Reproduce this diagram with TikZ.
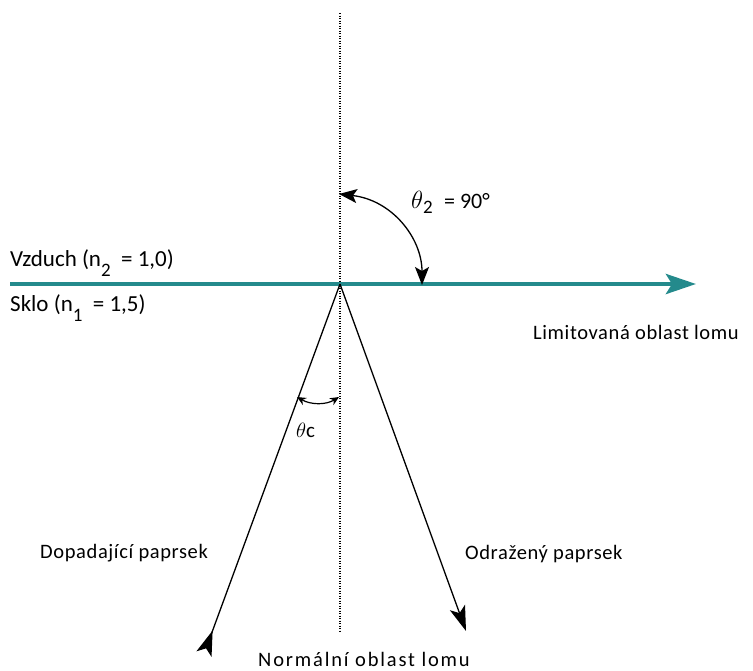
\documentclass[tikz,border=0pt]{standalone}
\usepackage{fontspec}
\setmainfont{Carlito}
\newfontfamily\lblfont[LetterSpace=3]{Carlito}
\newfontfamily\widefont[LetterSpace=9]{Carlito}
\usetikzlibrary{arrows.meta}
\definecolor{teal1}{RGB}{36,138,140}
\tikzset{
  lbl/.style={font=\lblfont\fontsize{20.5}{24}\selectfont, inner sep=0pt, anchor=base west},
  biglbl/.style={font=\fontsize{23}{27}\selectfont, inner sep=0pt, anchor=base west},
  ray/.style={line width=1.3pt}
}
\newcommand{\lowsub}[1]{\raisebox{-10pt}{\fontsize{19}{20}\selectfont #1}}
\begin{document}
\begin{tikzpicture}[x=1pt,y=-1pt]
\useasboundingbox (0,0) rectangle (753,670);
% points
\coordinate (top) at (340,13);
\coordinate (bot) at (340,632);
\coordinate (O) at (340,284);
\coordinate (left) at (10,284);
\coordinate (right) at (696,284);
\coordinate (inc) at (204,654);
\coordinate (refl) at (466,631);
\coordinate (a2s) at (339,194);
\coordinate (a2e) at (422,285);
\coordinate (acs) at (297,397);
\coordinate (ace) at (339,397);
% normal
\draw[line width=1.1pt, dash pattern=on 1.2pt off 1.3pt] (top) -- (bot);
% surface
\draw[teal1, line width=4.5pt, -{Stealth[length=30pt,width=20pt,inset=6pt]}] (left) -- (right);
% rays
\draw[ray, {Stealth[length=25pt,width=16pt,inset=6pt,reversed]}-] (inc) -- (O);
\draw[ray, -{Stealth[length=25pt,width=16pt,inset=6pt]}] (O) -- (refl);
% angles
\draw[ray, {Stealth[length=18pt,width=14pt,inset=4pt]}-{Stealth[length=18pt,width=14pt,inset=4pt]}] (a2s) .. controls (392,200) and (422,238) .. (a2e);
\draw[line width=1.2pt, {Stealth[length=9pt,width=8pt]}-{Stealth[length=9pt,width=8pt]}] (acs) .. controls (311,405) and (326,405) .. (ace);
% labels
\node[biglbl] (vz) at (10,266) {Vzduch (n\lowsub{2}\ \ = 1,0)};
\node[biglbl] (sk) at (10,311) {Sklo (n\lowsub{1}\ \ = 1,5)};
\node[biglbl] (t2) at (411,208) {\fontsize{25}{28}\selectfont$\theta$\raisebox{-5pt}{\fontsize{19}{20}\selectfont 2}\ \ \fontsize{22}{26}\selectfont= 90°};
\node[lbl] (lim) at (533,339) {Limitovaná oblast lomu};
\node[lbl] (tc) at (296,437) {\fontsize{21}{24}\selectfont$\theta\mathrm{c}$};
\node[lbl] (dop) at (40,558) {Dopadající paprsek};
\node[lbl] (odr) at (465,559) {Odražený paprsek};
\node[lbl, font=\widefont\fontsize{20.5}{24}\selectfont, anchor=base] (norm) at (364,666) {Normální oblast lomu};
\end{tikzpicture}
\end{document}
